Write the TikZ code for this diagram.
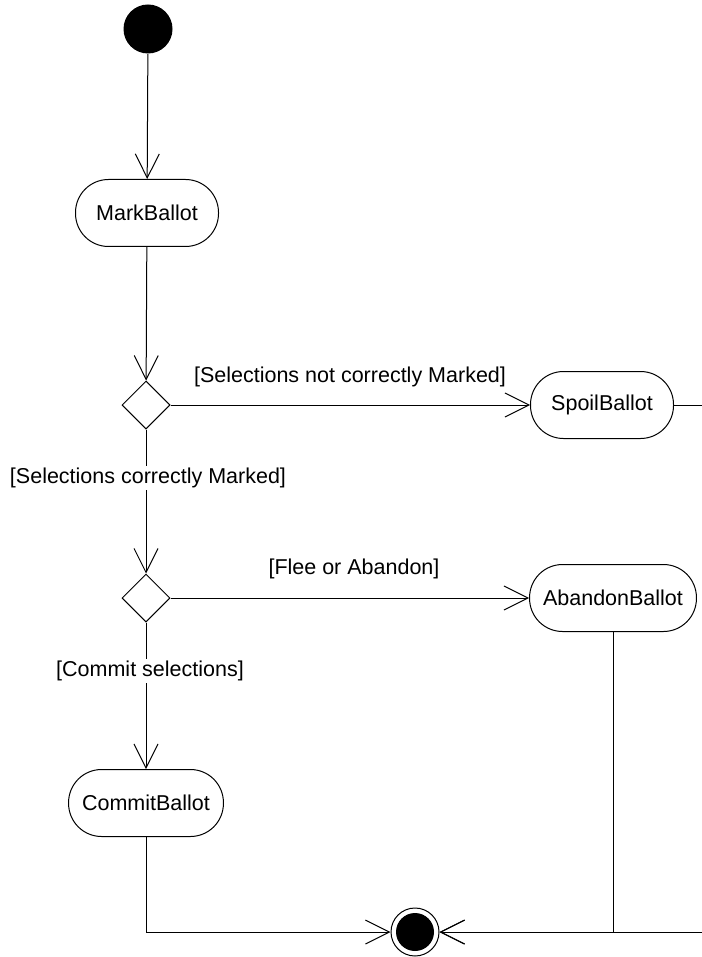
\documentclass[tikz,border=0pt]{standalone}
\usepackage{fontspec}
\setmainfont{Liberation Sans}
\usetikzlibrary{arrows.meta,shapes.geometric}

\begin{document}
\begin{tikzpicture}[
        x=1pt, y=-1pt,
        line width=1pt,
        font=\fontsize{21.5}{26}\selectfont,
        action/.style={rectangle, draw, rounded corners=33pt, minimum width=143pt, minimum height=67pt, inner xsep=13.5pt},
        decision/.style={diamond, draw, minimum width=48pt, minimum height=48pt, inner sep=0pt},
        initial/.style={circle, fill=black, minimum size=49pt, inner sep=0pt},
        final/.style={circle, draw, minimum size=48pt, inner sep=0pt, path picture={\fill (path picture bounding box.center) circle (19pt);}},
        guard/.style={fill=white, inner sep=2pt},
        flow/.style={-{Straight Barb[length=24pt, width=24pt]}}
    ]
    \useasboundingbox (0,0) rectangle (701,957);

    % Start and end
    \node[initial] (start) at (148,29) {};
    \node[final] (end) at (415,932) {};

    % Actions
    \node[action] (mark) at (147,213) {MarkBallot};
    \node[action] (spoil) at (602,405) {SpoilBallot};
    \node[action] (abandon) at (613,598) {AbandonBallot};
    \node[action] (commit) at (146,803) {CommitBallot};

    % Decisions
    \node[decision] (dec1) at (146,405) {};
    \node[decision] (dec2) at (146,598) {};

    % Control flow
    \draw[flow] (start) -- (mark);
    \draw[flow] (mark) -- (dec1);
    \draw[flow] (dec1) -- (spoil);
    \draw[flow] (dec1) -- (dec2);
    \draw[flow] (dec2) -- (abandon);
    \draw[flow] (dec2) -- (commit);
    \draw[flow] (commit) |- (end);
    \draw[flow] (abandon) |- (end);
    \draw[flow] (spoil.east) -- ++(60,0) |- (end);

    % Guards
    \node[guard] (notmarked) at (350,377) {[Selections not correctly Marked]};
    \node[guard] (marked) at (148,478) {[Selections correctly Marked]};
    \node[guard] (flee) at (354,569) {[Flee or Abandon]};
    \node[guard] (selections) at (150,671) {[Commit selections]};

\end{tikzpicture}
\end{document}
